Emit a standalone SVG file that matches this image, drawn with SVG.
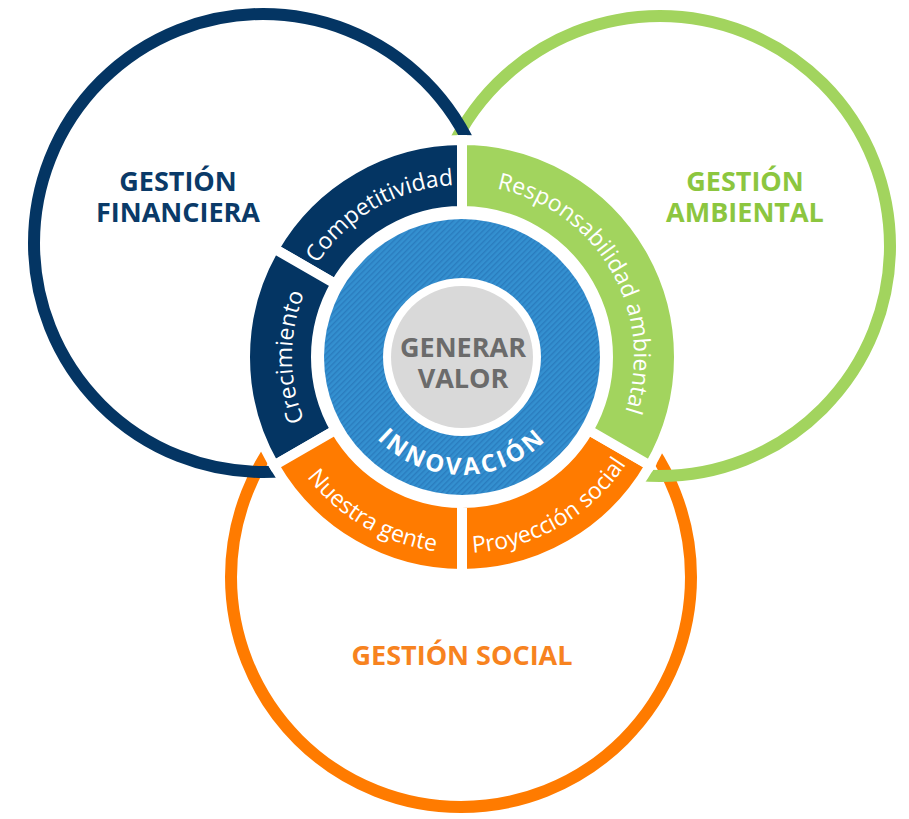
<svg xmlns="http://www.w3.org/2000/svg" xmlns:xlink="http://www.w3.org/1999/xlink" width="909" height="819" viewBox="0 0 909 819">
<defs>
<pattern id="hatch" width="4" height="4" patternUnits="userSpaceOnUse" patternTransform="rotate(45)">
<rect width="4" height="4" fill="#3490d0"/>
<rect width="1.4" height="4" fill="#2a7cbe"/>
</pattern>
<path id="tp-comp" d="M 313.04 271 A 172 172 0 0 1 462 185"/>
<path id="tp-crec" d="M 314.78 442 A 170 170 0 0 1 314.78 272"/>
<path id="tp-resp" d="M 462 185 A 172 172 0 0 1 610.96 443"/>
<path id="tp-nues" d="M 292.26 455 A 196 196 0 0 0 462 553"/>
<path id="tp-proy" d="M 462 553 A 196 196 0 0 0 631.74 455"/>
<path id="tp-inno" d="M 344 357 A 118 118 0 0 0 580 357"/>
</defs>
<style>
.circ{fill:none;stroke-width:12}
.seg{stroke:#ffffff;stroke-width:10;stroke-linejoin:miter}
.head{font-family:"Open Sans","Noto Sans","Liberation Sans",sans-serif;font-weight:bold;font-size:27px;text-anchor:middle}
.ring{font-family:"Open Sans","Noto Sans","Liberation Sans",sans-serif;font-size:23px;fill:#ffffff;text-anchor:middle}
.center{font-family:"Open Sans","Noto Sans","Liberation Sans",sans-serif;font-weight:bold;font-size:27px;fill:#6b6b6b;text-anchor:middle}
</style>
<rect width="909" height="819" fill="#ffffff"/>
<g id="social">
<circle class="circ" cx="461" cy="577" r="230" stroke="#ff7b00"/>
<text class="head" x="462" y="665" fill="#f7831f">GESTIÓN SOCIAL</text>
</g>
<g id="ambiental">
<circle class="circ" cx="660" cy="246" r="230" stroke="#a2d45e"/>
<text class="head" x="745" y="191" fill="#8cc63f">GESTIÓN</text>
<text class="head" x="745" y="222" fill="#8cc63f">AMBIENTAL</text>
</g>
<g id="financiera">
<circle class="circ" cx="263" cy="243" r="229" stroke="#043563"/>
<text class="head" x="178" y="191" fill="#0a3a68">GESTIÓN</text>
<text class="head" x="178" y="222" fill="#0a3a68">FINANCIERA</text>
</g>
<circle cx="462" cy="357" r="150" fill="#ffffff"/>
<g id="competitividad">
<path class="seg" fill="#043563" d="M 274.07 248.5 A 217 217 0 0 1 462 140 L 462 211 A 146 146 0 0 0 335.56 284 Z"/>
<text class="ring"><textPath xlink:href="#tp-comp" startOffset="50%">Competitividad</textPath></text>
</g>
<g id="crecimiento">
<path class="seg" fill="#043563" d="M 274.07 465.5 A 217 217 0 0 1 274.07 248.5 L 335.56 284 A 146 146 0 0 0 335.56 430 Z"/>
<text class="ring"><textPath xlink:href="#tp-crec" startOffset="50%">Crecimiento</textPath></text>
</g>
<g id="nuestra-gente">
<path class="seg" fill="#ff7b00" d="M 274.07 465.5 A 217 217 0 0 0 462 574 L 462 503 A 146 146 0 0 1 335.56 430 Z"/>
<text class="ring"><textPath xlink:href="#tp-nues" startOffset="50%">Nuestra gente</textPath></text>
</g>
<g id="proyeccion-social">
<path class="seg" fill="#ff7b00" d="M 462 574 A 217 217 0 0 0 649.93 465.5 L 588.44 430 A 146 146 0 0 1 462 503 Z"/>
<text class="ring"><textPath xlink:href="#tp-proy" startOffset="50%">Proyección social</textPath></text>
</g>
<g id="responsabilidad-ambiental">
<path class="seg" fill="#a2d45e" d="M 462 140 A 217 217 0 0 1 649.93 465.5 L 588.44 430 A 146 146 0 0 0 462 211 Z"/>
<text class="ring"><textPath xlink:href="#tp-resp" startOffset="50%">Responsabilidad  ambiental</textPath></text>
</g>
<g id="innovacion">
<circle cx="462" cy="357" r="138" fill="url(#hatch)"/>
<text font-family="'Open Sans','Noto Sans','Liberation Sans',sans-serif" font-weight="bold" font-size="24" fill="#ffffff" text-anchor="middle" letter-spacing="3"><textPath xlink:href="#tp-inno" startOffset="50%">INNOVACIÓN</textPath></text>
</g>
<g id="generar-valor">
<circle cx="462" cy="357" r="79" fill="#ffffff"/>
<circle cx="462" cy="357" r="71" fill="#d9d9d9"/>
<text class="center" x="463" y="357">GENERAR</text>
<text class="center" x="463" y="388">VALOR</text>
</g>
<g id="connectors"/>
</svg>
